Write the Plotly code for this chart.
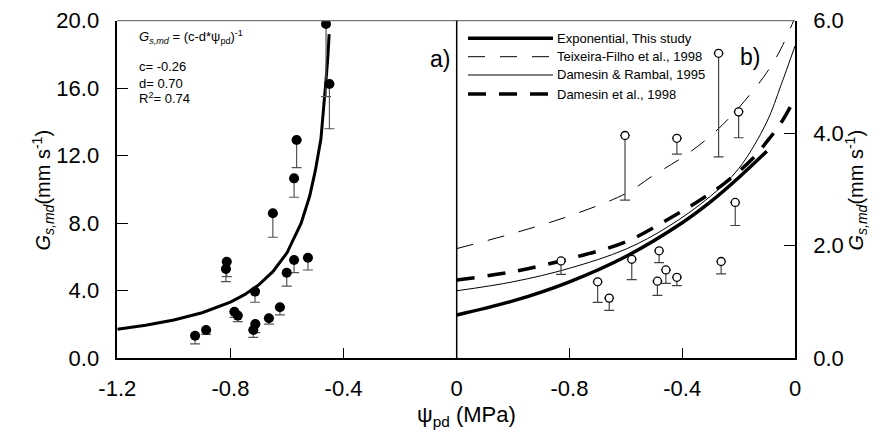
import plotly.graph_objects as go

W, H = 890, 439

# ---------------- data: panel a ----------------
a_psi = [-0.925, -0.886, -0.813, -0.816, -0.786, -0.774, -0.713, -0.712, -0.719, -0.664,
         -0.625, -0.601, -0.575, -0.526, -0.650, -0.575, -0.566, -0.462, -0.450]
a_gs = [1.34, 1.68, 5.72, 5.29, 2.76, 2.53, 3.95, 2.03, 1.68, 2.37,
        3.02, 5.07, 5.82, 5.96, 8.59, 10.66, 12.93, 19.8, 16.25]
a_low = [0.85, 1.42, 4.84, 4.54, 2.43, 2.17, 3.32, 1.52, 1.24, 2.03,
         2.57, 4.28, 5.07, 5.23, 7.17, 9.54, 11.3, 15.5, 13.6]

a_fit_psi = [-1.2, -1.1, -1.0, -0.9, -0.8, -0.75, -0.7, -0.65, -0.6, -0.55, -0.52,
             -0.5, -0.48, -0.47, -0.46, -0.455, -0.451]
a_fit_gs = [1.72, 1.96, 2.27, 2.70, 3.33, 3.77, 4.35, 5.13, 6.25, 8.0, 9.6,
            11.1, 13.0, 14.8, 16.9, 18.0, 19.2]

# ---------------- data: panel b ----------------
b_psi = [-0.830, -0.700, -0.659, -0.579, -0.482, -0.458, -0.488, -0.419, -0.262, -0.212,
         -0.271, -0.200, -0.419, -0.603]
b_gs = [1.73, 1.36, 1.07, 1.76, 1.91, 1.57, 1.37, 1.44, 1.72, 2.77,
        5.42, 4.38, 3.91, 3.96]
b_low = [1.49, 0.995, 0.85, 1.40, 1.70, 1.33, 1.12, 1.29, 1.50, 2.36,
         3.58, 3.92, 3.63, 2.81]

exp_psi = [-1.2, -1.0, -0.8, -0.6, -0.4, -0.3, -0.2, -0.1]
exp_gs = [0.77, 1.02, 1.36, 1.81, 2.41, 2.78, 3.21, 3.68]

tex_psi = [-1.2, -1.0, -0.8, -0.6, -0.5, -0.4, -0.3, -0.2, -0.1, -0.05, -0.005]
tex_gs = [1.95, 2.22, 2.53, 2.93, 3.26, 3.57, 3.95, 4.45, 5.08, 5.5, 6.0]

dr_psi = [-1.2, -1.0, -0.8, -0.6, -0.45, -0.3, -0.2, -0.1, -0.05, 0.0]
dr_gs = [1.20, 1.36, 1.60, 1.94, 2.34, 2.88, 3.37, 4.20, 4.85, 5.55]

de_psi = [-1.2, -1.0, -0.8, -0.6, -0.45, -0.35, -0.25, -0.15, -0.1, -0.05, 0.0]
de_gs = [1.39, 1.54, 1.77, 2.07, 2.47, 2.77, 3.11, 3.55, 3.85, 4.18, 4.62]

legend_names = ["Exponential, This study", "Teixeira-Filho et al., 1998",
                "Damesin & Rambal, 1995", "Damesin et al., 1998"]

a_yticks = [0, 4, 8, 12, 16, 20]
b_yticks = [0, 2, 4, 6]
a_xticks = [-1.2, -0.8, -0.4, 0]
b_xticks = [-0.8, -0.4, 0]

# ---------------- styles ----------------
FONT = "Liberation Sans, Arial, sans-serif"
styles = [dict(color="black", width=3.5),
          dict(color="black", width=1, dash="17px,15px"),
          dict(color="black", width=1),
          dict(color="black", width=3.5, dash="18px,13px")]

def px(x):
    return x / W

def py(y):
    return 1 - y / H

fig = go.Figure()

# panel a
fig.add_trace(go.Scatter(x=a_fit_psi, y=a_fit_gs, mode="lines", xaxis="x", yaxis="y",
                         line=dict(color="black", width=3), showlegend=False))
fig.add_trace(go.Scatter(
    x=a_psi, y=a_gs, mode="markers", xaxis="x", yaxis="y", showlegend=False,
    marker=dict(color="black", size=10),
    error_y=dict(type="data", symmetric=False, array=[0] * len(a_gs),
                 arrayminus=[g - l for g, l in zip(a_gs, a_low)],
                 color="#555", thickness=1.2, width=5)))

# panel b curves
for xs, ys, st, nm in zip([exp_psi, tex_psi, dr_psi, de_psi], [exp_gs, tex_gs, dr_gs, de_gs],
                          styles, legend_names):
    fig.add_trace(go.Scatter(x=xs, y=ys, mode="lines", xaxis="x2", yaxis="y2",
                             line=dict(shape="spline", **st), name=nm, showlegend=False))

fig.add_trace(go.Scatter(
    x=b_psi, y=b_gs, mode="markers", xaxis="x2", yaxis="y2", showlegend=False,
    marker=dict(color="white", size=8, line=dict(color="black", width=1.3)),
    error_y=dict(type="data", symmetric=False, array=[0] * len(b_gs),
                 arrayminus=[g - l for g, l in zip(b_gs, b_low)],
                 color="#444", thickness=1.2, width=5)))

x0, xm, x1 = 117.3, 456.7, 795.0
yt, yb = 20.7, 358.3
dom_y = [py(yb), py(yt)]

axis_common = dict(showline=True, linecolor="black", linewidth=1.5, ticks="inside",
                   ticklen=11, tickcolor="black", tickwidth=1.2, showgrid=False,
                   zeroline=False, automargin=False,
                   tickfont=dict(family=FONT, size=22, color="black"))

fig.update_layout(
    template="none",
    width=W, height=H, margin=dict(l=0, r=0, t=0, b=0, pad=0, autoexpand=False),
    paper_bgcolor="white", plot_bgcolor="white", showlegend=False,
    xaxis=dict(domain=[px(x0), px(xm)], anchor="y", range=[-1.2, 0],
               tickvals=a_xticks, ticktext=["-1.2", "-0.8", "-0.4", "0"],
               ticklabelstandoff=10, **axis_common),
    yaxis=dict(domain=dom_y, anchor="x", range=[0, 20],
               tickvals=a_yticks, ticktext=[f"{v:.1f}" for v in a_yticks],
               ticklabelstandoff=12, **axis_common),
    xaxis2=dict(domain=[px(xm), px(x1)], anchor="y2", range=[-1.2, 0],
                tickvals=b_xticks, ticktext=["-0.8", "-0.4", "0"],
                ticklabelstandoff=10, **axis_common),
    yaxis2=dict(domain=dom_y, anchor="x2", range=[0, 6], side="right",
                tickvals=b_yticks, ticktext=[f"{v:.1f}" for v in b_yticks],
                ticklabelstandoff=12, **axis_common),
)

shapes = []
# top gray frame lines and middle divider
shapes.append(dict(type="line", xref="paper", yref="paper", x0=px(x0), x1=px(x1),
                   y0=py(yt), y1=py(yt), line=dict(color="#777", width=1.2)))
shapes.append(dict(type="line", xref="paper", yref="paper", x0=px(xm), x1=px(xm),
                   y0=py(yt), y1=py(yb), line=dict(color="black", width=1.5)))
# legend samples
leg_y = [38.3, 56.7, 75.0, 94.0]
for st, ly in zip(styles, leg_y):
    shapes.append(dict(type="line", xref="paper", yref="paper", x0=px(468), x1=px(553),
                       y0=py(ly), y1=py(ly), line=st))
fig.update_layout(shapes=shapes)

ann = []
for nm, ly in zip(legend_names, leg_y):
    ann.append(dict(x=px(555), y=py(ly), xref="paper", yref="paper", text=nm,
                    showarrow=False, xanchor="left", yanchor="middle",
                    font=dict(family=FONT, size=13, color="black")))

ann.append(dict(x=px(137), y=py(37), xref="paper", yref="paper",
                text="<i>G<sub>s,md</sub></i> = (c-d*ψ<sub>pd</sub>)<sup>-1</sup>",
                showarrow=False, xanchor="left", yanchor="middle",
                font=dict(family=FONT, size=13, color="black")))
for txt, ly in zip(["c= -0.26", "d= 0.70", "R<sup>2</sup>= 0.74"], [67, 83, 98]):
    ann.append(dict(x=px(137), y=py(ly), xref="paper", yref="paper", text=txt,
                    showarrow=False, xanchor="left", yanchor="middle",
                    font=dict(family=FONT, size=13, color="black")))

ann.append(dict(x=px(440), y=py(44), xref="paper", yref="paper", text="a)",
                showarrow=False, font=dict(family=FONT, size=23, color="black")))
ann.append(dict(x=px(762), y=py(42), xref="paper", yref="paper", text="b)",
                showarrow=False, font=dict(family=FONT, size=23, color="black")))

ytitle = "<i>G<sub>s,md</sub></i>(mm s<sup>-1</sup>)"
ann.append(dict(x=px(26), y=py(190), xref="paper", yref="paper", text=ytitle,
                textangle=-90, showarrow=False,
                font=dict(family=FONT, size=20, color="black")))
ann.append(dict(x=px(872), y=py(190), xref="paper", yref="paper", text=ytitle,
                textangle=-90, showarrow=False,
                font=dict(family=FONT, size=20, color="black")))
ann.append(dict(x=px(466), y=py(432), xref="paper", yref="paper",
                text="ψ<sub>pd</sub> (MPa)", showarrow=False, yanchor="bottom",
                font=dict(family=FONT, size=22, color="black")))
fig.update_layout(annotations=ann)

fig.write_html("out.html", config={"displayModeBar": False},
               post_script="document.body.style.margin='0';document.body.style.padding='0';")
